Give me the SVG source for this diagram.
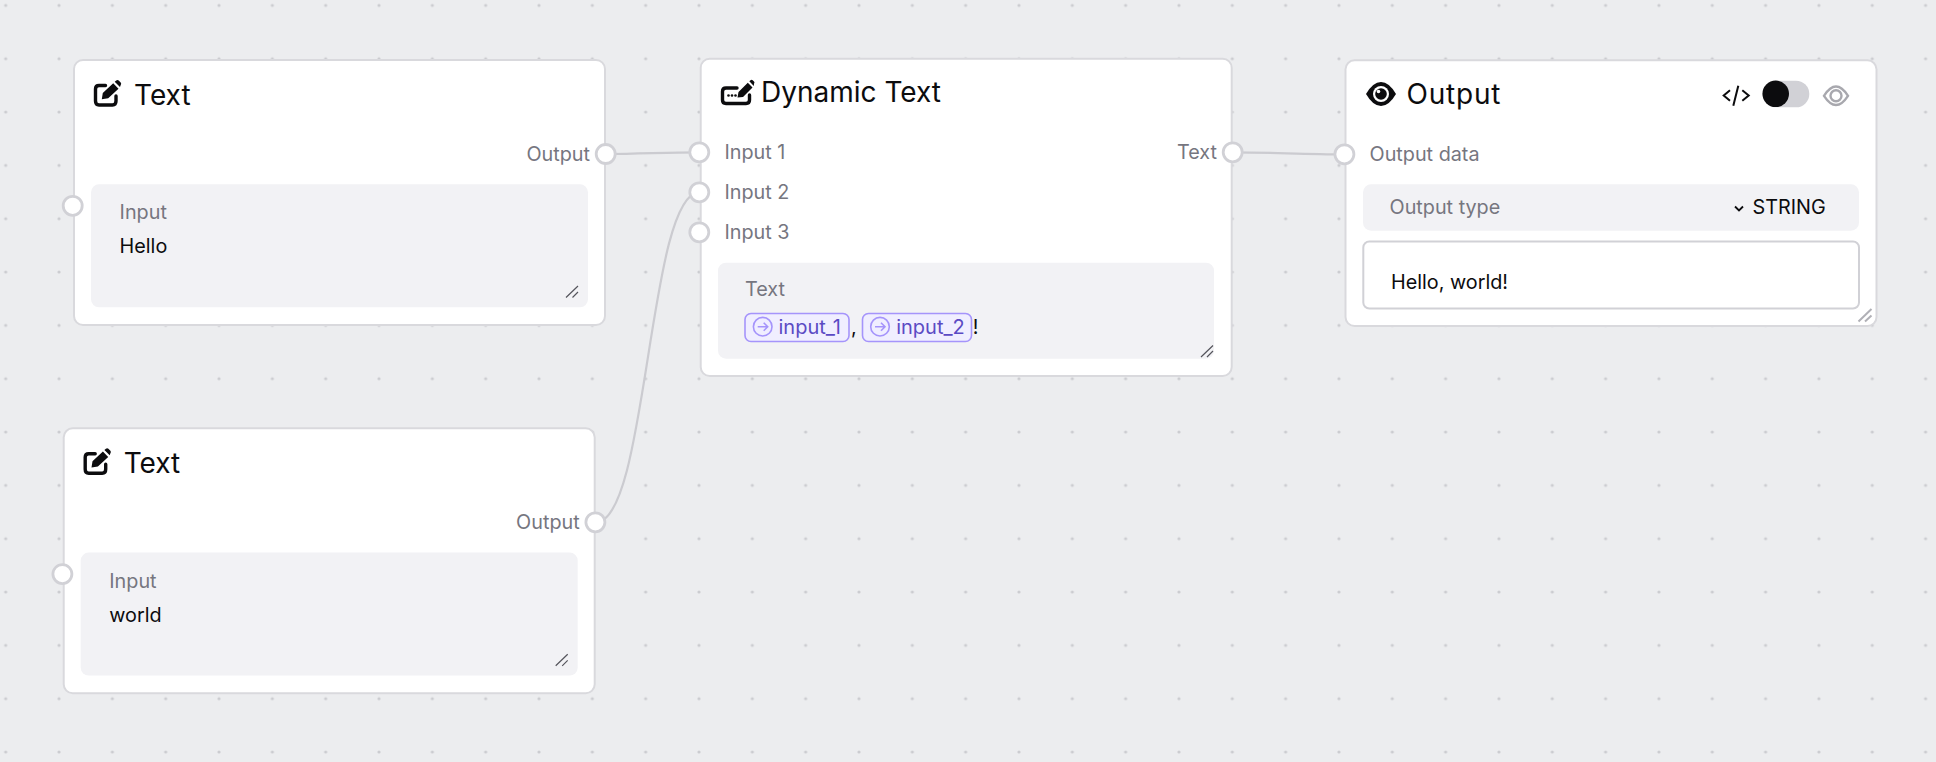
<svg xmlns="http://www.w3.org/2000/svg" width="1936" height="762" viewBox="0 0 1936 762">
<style>
text{font-family:Inter,"Noto Sans","Liberation Sans",sans-serif}
.card{fill:#fff;stroke:#d9d9dd;stroke-width:2}
.panel{fill:#f2f2f5}
.h{fill:#fff;stroke:#d1d1d6;stroke-width:2.8}
.lb{font-size:19.8px;fill:#76767f}
.v{font-size:19.8px;fill:#0c0c0e}
.t{font-size:28px;fill:#0c0c0e}
.e{fill:none;stroke:#cbcbd0;stroke-width:2.2}
.rz{fill:none;stroke:#55555c;stroke-width:1.2}
.pill{fill:#f0eeff;stroke:#a594fb;stroke-width:1.6}
.pt{font-size:20px;fill:#5b4ac4}
.pi{fill:none;stroke:#a594fb;stroke-width:1.6}
.ic{fill:none;stroke:#0c0c0e;stroke-width:3.4;stroke-linecap:round;stroke-linejoin:round}
.f{fill:#0c0c0e}
</style>
<defs>
<pattern id="dots" x="5.7" y="5.4" width="53.33" height="53.33" patternUnits="userSpaceOnUse"><circle cx="0" cy="0" r="1.6" fill="#cbccd0"/><circle cx="53.33" cy="0" r="1.6" fill="#cbccd0"/><circle cx="0" cy="53.33" r="1.6" fill="#cbccd0"/><circle cx="53.33" cy="53.33" r="1.6" fill="#cbccd0"/></pattern>
<g id="edit"><path class="ic" d="M105.500 85.500H99Q95.500 85.500 95.500 89V101Q95.500 105 99 105H112.500Q116 105 116 101V96"/><path class="f" d="M101.800 99.300L102.800 93L113.200 83.300L118.500 88.700L108.200 98.300ZM114.700 81.800L116.200 80.400Q117.500 79.500 118.700 80.400L120.700 82.500Q121.700 83.800 120.700 85L120 87Z"/></g>
<g id="arrowc"><circle class="pi" cx="0" cy="0" r="9.300"/><path class="pi" d="M-5 0H5M1 -4L5 0L1 4"/></g>
</defs>
<rect width="1936" height="762" fill="#ecedef"/>
<rect width="1936" height="762" fill="url(#dots)"/>
<g id="connectors">
<path class="e" d="M605.700 154C640 154 665 152.300 699.500 152.300"/>
<path class="e" d="M596 522.300C648 522.300 648 192.300 699.500 192.300"/>
<path class="e" d="M1232.700 152.300C1270 152.300 1305 154.300 1344.400 154.300"/>
</g>
<g id="node-text-1">
<rect class="card" x="74" y="60" width="531" height="265" rx="9"/>
<use href="#edit"/>
<text class="t" x="134" y="105">Text</text>
<text class="lb" x="590" y="161" text-anchor="end">Output</text>
<rect class="panel" x="91" y="184.300" width="497" height="123" rx="8"/>
<text class="lb" x="119.600" y="219.300">Input</text>
<text class="v" x="119.600" y="252.700">Hello</text>
<path class="rz" d="M566 297.500L578 286M572.500 297.500L578 292"/>
<circle class="h" cx="605.700" cy="154" r="9.500"/>
<circle class="h" cx="72.700" cy="205.800" r="9.500"/>
</g>
<g id="node-text-2" transform="translate(-10.300 368.300)">
<rect class="card" x="74" y="60" width="531" height="265" rx="9"/>
<use href="#edit"/>
<text class="t" x="134" y="105">Text</text>
<text class="lb" x="590" y="161" text-anchor="end">Output</text>
<rect class="panel" x="91" y="184.300" width="497" height="123" rx="8"/>
<text class="lb" x="119.600" y="219.300">Input</text>
<text class="v" x="119.600" y="253.400">world</text>
<path class="rz" d="M566 297.500L578 286M572.500 297.500L578 292"/>
<circle class="h" cx="605.700" cy="154" r="9.500"/>
<circle class="h" cx="72.700" cy="205.800" r="9.500"/>
</g>
<g id="node-dynamic-text">
<rect class="card" x="700.700" y="58.700" width="531" height="317.300" rx="9"/>
<path class="ic" d="M737 88H726Q722.500 88 722.500 91.500V100Q722.500 103.500 726 103.500H746Q749.500 103.500 749.500 100V95"/>
<circle class="f" cx="728.500" cy="95.500" r="1.300"/><circle class="f" cx="732" cy="95.500" r="1.300"/><circle class="f" cx="735.500" cy="95.500" r="1.300"/>
<path class="f" d="M737.500 97.500L738.500 92L747.800 82.800L752.500 87.500L743 97ZM749.300 81.300L750.500 80.200Q751.600 79.300 752.700 80.200L754 81.500Q755 82.600 754 83.700L753.800 86Z"/>
<text class="t" x="761" y="102.300">Dynamic Text</text>
<text class="lb" x="724.400" y="159">Input 1</text>
<text class="lb" x="724.400" y="199">Input 2</text>
<text class="lb" x="724.400" y="239">Input 3</text>
<text class="lb" x="1217" y="159" text-anchor="end">Text</text>
<rect class="panel" x="718" y="262.700" width="496" height="96" rx="8"/>
<text class="lb" x="745" y="296">Text</text>
<rect class="pill" x="745" y="313.500" width="104" height="28" rx="6"/>
<use href="#arrowc" x="762.700" y="326.700"/>
<text class="pt" x="778.500" y="334.300">input_1</text>
<text class="v" x="851" y="334.300">,</text>
<rect class="pill" x="862.500" y="313.500" width="109" height="28" rx="6"/>
<use href="#arrowc" x="880" y="326.700"/>
<text class="pt" x="896.200" y="334.300">input_2</text>
<text class="v" x="972.700" y="334.300">!</text>
<path class="rz" d="M1201 357L1213 345.500M1207 357L1213 351"/>
<circle class="h" cx="699.300" cy="152.300" r="9.500"/>
<circle class="h" cx="699.300" cy="192.300" r="9.500"/>
<circle class="h" cx="699.300" cy="232.300" r="9.500"/>
<circle class="h" cx="1232.700" cy="152.300" r="9.500"/>
</g>
<g id="node-output">
<rect class="card" x="1345.500" y="60.300" width="531" height="265.700" rx="9"/>
<path class="f" d="M1366 94Q1373 82 1381 82Q1389 82 1396 94Q1389 106 1381 106Q1373 106 1366 94Z"/>
<circle cx="1381" cy="94" r="8" fill="#fff"/><circle class="f" cx="1381" cy="94" r="5.800"/><circle cx="1378.500" cy="91.500" r="1.800" fill="#fff"/>
<text class="t" x="1406.500" y="104.300" letter-spacing="0.8">Output</text>
<path fill="none" stroke="#0c0c0e" stroke-width="2" d="M1730 90.300L1723.700 95.500L1730 100.700M1738.300 85.700L1733.300 105.700M1742.300 90.300L1748.700 95.500L1742.300 100.700"/>
<rect x="1763.300" y="80.700" width="46" height="26.600" rx="13.300" fill="#d1d1d6"/>
<circle class="f" cx="1775.700" cy="93.800" r="13.300"/>
<path fill="none" stroke="#a8a8ae" stroke-width="2.400" d="M1824 95.800Q1830 86.500 1836 86.500Q1842 86.500 1848 95.800Q1842 105 1836 105Q1830 105 1824 95.800Z"/>
<circle cx="1836" cy="95.800" r="5.500" fill="none" stroke="#a8a8ae" stroke-width="2.400"/>
<text class="lb" x="1369.500" y="161">Output data</text>
<rect class="panel" x="1363" y="184.300" width="496" height="46.400" rx="8"/>
<text class="lb" x="1389.500" y="214">Output type</text>
<path fill="none" stroke="#0c0c0e" stroke-width="1.800" d="M1735 206.500L1739 210.500L1743 206.500"/>
<text class="v" x="1752.500" y="214" font-size="20">STRING</text>
<rect x="1363.300" y="241.500" width="495.700" height="67" rx="6" fill="#fff" stroke="#d1d1d6" stroke-width="2"/>
<text class="v" x="1391" y="289">Hello, world!</text>
<path fill="none" stroke="#b0b0b6" stroke-width="2" d="M1858.500 321.500L1871.500 309M1865 321.500L1871.500 315.500"/>
<circle class="h" cx="1344.400" cy="154.300" r="9.500"/>
</g>
</svg>
